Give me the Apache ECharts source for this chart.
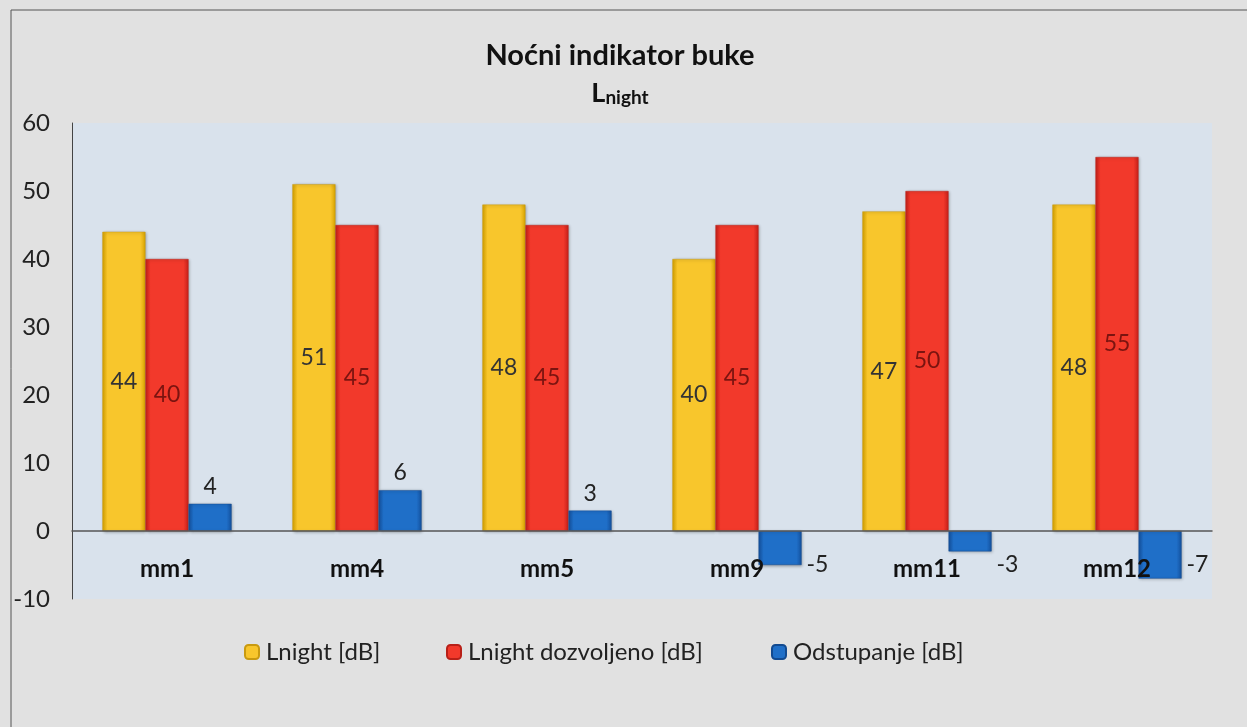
<!DOCTYPE html>
<html>
<head>
<meta charset="utf-8">
<title>Noćni indikator buke</title>
<script src="https://cdn.jsdelivr.net/npm/echarts@6/dist/echarts.min.js"></script>
<style>
  html, body { margin: 0; padding: 0; }
  #noiseChart { width: 1247px; height: 727px; }
</style>
</head>
<body>
<div id="noiseChart"></div>
<script>
// podaci s grafikona
const categories = ['mm1', 'mm4', 'mm5', 'mm9', 'mm11', 'mm12'];
const lnight = [44, 51, 48, 40, 47, 48];
const lnightDozvoljeno = [40, 45, 45, 45, 50, 55];
const odstupanje = [4, 6, 3, -5, -3, -7];
const seriesNames = ['Lnight [dB]', 'Lnight dozvoljeno [dB]', 'Odstupanje [dB]'];
const yMin = -10;
const yMax = 60;
const yStep = 10;

const fontName = 'Lato, "Open Sans", sans-serif';

// "3D" izgled stupaca - tamniji rubovi, svjetlija sredina
function barGrad(edge, mid) {
  return new echarts.graphic.LinearGradient(0, 0, 1, 0, [
    { offset: 0, color: edge },
    { offset: 0.12, color: mid },
    { offset: 0.88, color: mid },
    { offset: 1, color: edge }
  ]);
}

const barShadow = {
  shadowBlur: 3,
  shadowColor: 'rgba(0,0,0,0.35)',
  shadowOffsetX: 1,
  shadowOffsetY: 1
};

// legenda - svaka stavka posebno da pozicije odgovaraju
const legendLeft = [239, 441, 766];
function makeLegend(i) {
  return {
    left: legendLeft[i],
    top: 635,
    itemWidth: 14,
    itemHeight: 14,
    itemGap: 0,
    textStyle: { fontSize: 24, color: '#222', fontFamily: fontName, padding: [0, 0, 0, 2] },
    data: [seriesNames[i]]
  };
}

let myChart = echarts.init(document.getElementById('noiseChart'));

var option = {
  backgroundColor: '#e1e1e1',
  animation: false,
  textStyle: { fontFamily: fontName },
  title: {
    left: 615,
    textAlign: 'center',
    top: 36,
    itemGap: 6,
    text: 'Noćni indikator buke',
    textStyle: { fontSize: 29, fontWeight: 'bold', color: '#111', fontFamily: fontName },
    subtext: '{L|L}{sub|night}',
    subtextStyle: {
      rich: {
        L: { fontSize: 27, fontWeight: 'bold', color: '#111', fontFamily: fontName, verticalAlign: 'bottom' },
        sub: { fontSize: 19, fontWeight: 'bold', color: '#111', fontFamily: fontName, padding: [12, 0, 0, 0], verticalAlign: 'bottom' }
      }
    }
  },
  legend: [makeLegend(0), makeLegend(1), makeLegend(2)],
  grid: {
    left: 72,
    right: 35,
    top: 123,
    bottom: 128,
    show: true,
    backgroundColor: '#d9e2ec',
    borderWidth: 0
  },
  xAxis: {
    type: 'category',
    data: categories,
    z: 5,
    // os na nuli: pomak od dna grida (10 od 70 jedinica)
    offset: -476 * (0 - yMin) / (yMax - yMin),
    axisLine: { onZero: false, lineStyle: { color: '#555', width: 1.5 } },
    axisTick: { show: false },
    axisLabel: { fontSize: 24, fontWeight: 'bold', color: '#111', margin: 26, fontFamily: fontName }
  },
  yAxis: {
    type: 'value',
    min: yMin,
    max: yMax,
    interval: yStep,
    axisLine: { show: true, lineStyle: { color: '#444' } },
    axisTick: { show: false },
    splitLine: { show: false },
    axisLabel: { fontSize: 24, color: '#222', margin: 22, fontFamily: fontName }
  },
  graphic: [
    {
      type: 'polyline',
      silent: true,
      shape: { points: [[11, 727], [11, 10], [1247, 10]] },
      style: { stroke: '#555', lineWidth: 1, fill: null }
    }
  ],
  series: [
    {
      name: seriesNames[0],
      type: 'bar',
      barGap: '0%',
      barCategoryGap: '32%',
      data: lnight,
      itemStyle: Object.assign({ color: barGrad('#d9a400', '#f8c62c'), borderColor: '#c99a10', borderWidth: 0.5 }, barShadow),
      label: { show: true, position: 'inside', fontSize: 23, color: '#333', fontFamily: fontName }
    },
    {
      name: seriesNames[1],
      type: 'bar',
      data: lnightDozvoljeno,
      itemStyle: Object.assign({ color: barGrad('#c8201a', '#f2392b'), borderColor: '#b82018', borderWidth: 0.5 }, barShadow),
      label: { show: true, position: 'inside', fontSize: 23, color: '#7a1410', fontFamily: fontName }
    },
    {
      name: seriesNames[2],
      type: 'bar',
      // negativne vrijednosti imaju oznaku desno od stupca
      data: odstupanje.map(v => v < 0 ? { value: v, label: { position: [48, 22] } } : v),
      itemStyle: Object.assign({ color: barGrad('#1452a0', '#1f6fc8'), borderColor: '#124a90', borderWidth: 0.5 }, barShadow),
      label: { show: true, position: 'top', distance: 6, fontSize: 23, color: '#222', fontFamily: fontName }
    }
  ]
};

myChart.setOption(option);
window.onresize = myChart.resize;
</script>
</body>
</html>
